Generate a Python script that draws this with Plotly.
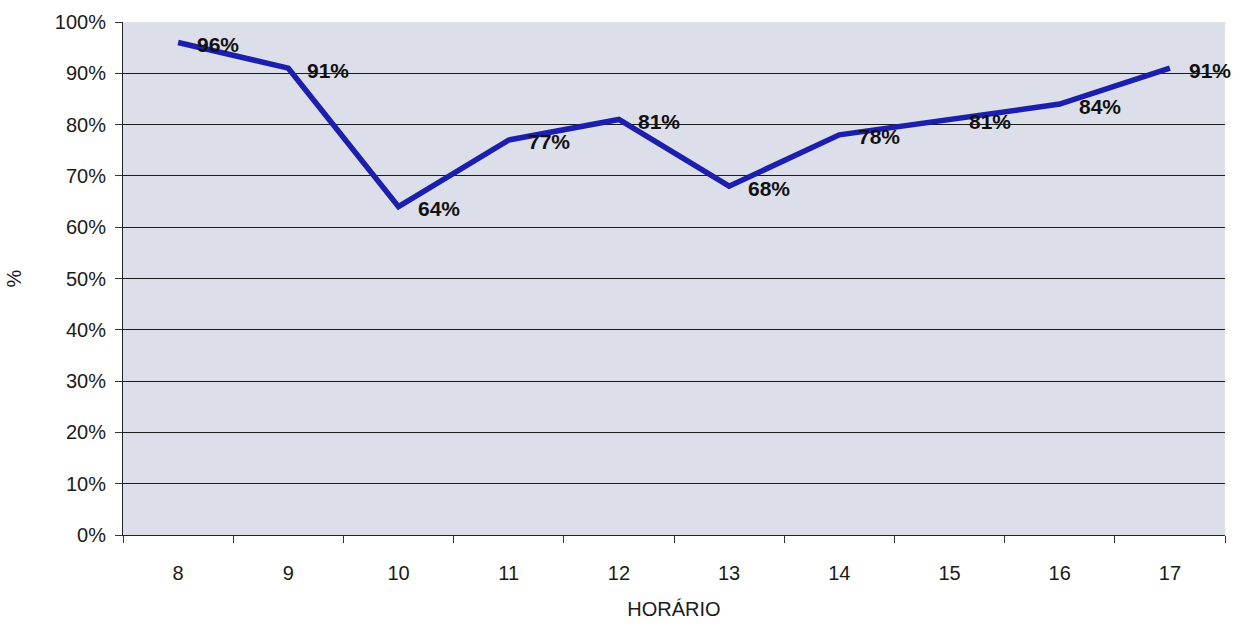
import plotly.graph_objects as go

horario = [8, 9, 10, 11, 12, 13, 14, 15, 16, 17]
percentual = [0.96, 0.91, 0.64, 0.77, 0.81, 0.68, 0.78, 0.81, 0.84, 0.91]
rotulos = [f"{round(v * 100)}%" for v in percentual]

FONTE = "Liberation Sans, Arial, sans-serif"

fig = go.Figure()
fig.add_trace(go.Scatter(
    x=horario,
    y=percentual,
    mode="lines",
    line=dict(color="#1c1fae", width=5.5),
    hoverinfo="skip",
))

# rótulos de valor à direita de cada ponto
for h, v, r in zip(horario, percentual, rotulos):
    fig.add_annotation(
        x=h, y=v, text=f"<b>{r}</b>",
        xanchor="left", yanchor="middle",
        xshift=17, yshift=-2, showarrow=False,
        font=dict(family=FONTE, size=21, color="#111111"),
    )

fig.update_layout(
    width=1244, height=627,
    margin=dict(l=123, r=19, t=22, b=92),
    paper_bgcolor="white",
    plot_bgcolor="#dcdfe9",
    showlegend=False,
    font=dict(family=FONTE, size=20, color="#1a1a1a"),
)

fig.update_xaxes(
    range=[horario[0] - 0.5, horario[-1] + 0.5],
    tickvals=horario,
    ticktext=[str(h) for h in horario],
    ticks="", ticklabelstandoff=20,
    minor=dict(tick0=horario[0] - 0.5, dtick=1, ticks="outside",
               ticklen=7, tickcolor="#333333", showgrid=False),
    showline=True, linecolor="#222222", linewidth=1,
    showgrid=False, zeroline=False, automargin=False,
    tickfont=dict(size=20),
    title=dict(text="HORÁRIO", font=dict(size=20), standoff=18),
)
fig.update_yaxes(
    range=[0, 1], dtick=0.1, tickformat=".0%",
    ticks="outside", ticklen=7, tickcolor="#333333",
    ticklabelstandoff=5,
    showline=True, linecolor="#222222", linewidth=1,
    showgrid=True, gridcolor="#1a1a1a", gridwidth=1,
    zeroline=False, automargin=False,
    tickfont=dict(size=20),
    title=dict(text="%", font=dict(size=20), standoff=27),
)

fig.write_html("out.html")
